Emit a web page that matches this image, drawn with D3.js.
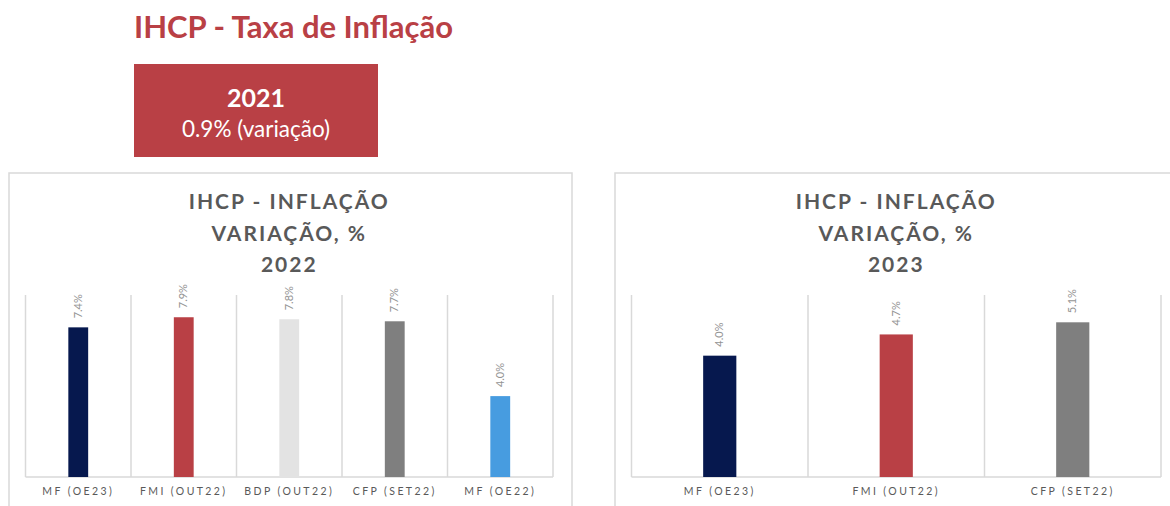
<!DOCTYPE html>
<html>
<head>
<meta charset="utf-8">
<script src="https://cdn.jsdelivr.net/npm/d3@7"></script>
<style>
  html, body { margin: 0; padding: 0; background: #fff; }
  svg { display: block; }
</style>
</head>
<body>
<div id="chart"></div>
<script>
// ─── Data ───
const headline = 'IHCP - Taxa de Inflação';
const boxYear = '2021';
const boxText = '0.9% (variação)';

const titleLines22 = ['IHCP - INFLAÇÃO', 'VARIAÇÃO, %', '2022'];
const cats22 = ['MF (OE23)', 'FMI (OUT22)', 'BDP (OUT22)', 'CFP (SET22)', 'MF (OE22)'];
const vals22 = [7.4, 7.9, 7.8, 7.7, 4.0];
const colors22 = ['#06184E', '#B94045', '#E3E3E3', '#7F7F7F', '#479CE0'];

const titleLines23 = ['IHCP - INFLAÇÃO', 'VARIAÇÃO, %', '2023'];
const cats23 = ['MF (OE23)', 'FMI (OUT22)', 'CFP (SET22)'];
const vals23 = [4.0, 4.7, 5.1];
const colors23 = ['#06184E', '#B94045', '#7F7F7F'];

const FONT = "Lato, 'Open Sans', sans-serif";

const svg = d3.select('#chart')
  .append('svg')
  .attr('width', 1170)
  .attr('height', 506);

// Headline + red box
svg.append('text')
  .attr('x', 134).attr('y', 38)
  .attr('fill', '#B94045')
  .attr('font-family', FONT)
  .attr('font-weight', 700)
  .attr('font-size', '31px')
  .text(headline);

svg.append('rect')
  .attr('x', 134).attr('y', 64)
  .attr('width', 244).attr('height', 93)
  .attr('fill', '#B94045');

svg.append('text')
  .attr('x', 256).attr('y', 107)
  .attr('text-anchor', 'middle')
  .attr('fill', '#fff')
  .attr('font-family', FONT)
  .attr('font-weight', 700)
  .attr('font-size', '25px')
  .text(boxYear);

svg.append('text')
  .attr('x', 256).attr('y', 137)
  .attr('text-anchor', 'middle')
  .attr('fill', '#fff')
  .attr('font-family', FONT)
  .attr('font-size', '22.5px')
  .text(boxText);

function drawPanel(cfg) {
  const g = svg.append('g');

  // frame (no bottom edge visible)
  const fx0 = cfg.frame[0], fx1 = cfg.frame[1], fy = 173;
  g.append('path')
    .attr('d', `M${fx0},506 V${fy} H${fx1}` + (cfg.rightEdge ? ` V506` : ''))
    .attr('fill', 'none')
    .attr('stroke', '#D9D9D9')
    .attr('stroke-width', 1.5);

  // title
  cfg.title.forEach((t, i) => {
    g.append('text')
      .attr('x', (cfg.plot[0] + cfg.plot[1]) / 2)
      .attr('y', 209 + i * 31.5)
      .attr('text-anchor', 'middle')
      .attr('fill', '#595959')
      .attr('font-family', FONT)
      .attr('font-weight', 700)
      .attr('font-size', '21px')
      .attr('letter-spacing', '2px')
      .text(t);
  });

  const x = d3.scaleBand()
    .domain(cfg.cats)
    .range(cfg.plot)
    .padding(0);

  const y = d3.scaleLinear()
    .domain([0, cfg.yMax])
    .range([477, 295]);

  // vertical category separators
  const edges = cfg.cats.map(c => x(c)).concat([cfg.plot[1]]);
  edges.forEach(e => {
    g.append('line')
      .attr('x1', e).attr('x2', e)
      .attr('y1', y(cfg.yMax)).attr('y2', y(0))
      .attr('stroke', '#D9D9D9')
      .attr('stroke-width', 1.5);
  });

  // baseline
  g.append('line')
    .attr('x1', cfg.plot[0]).attr('x2', cfg.plot[1])
    .attr('y1', y(0)).attr('y2', y(0))
    .attr('stroke', '#D9D9D9')
    .attr('stroke-width', 1.5);

  const bw = x.bandwidth() * 0.188;

  cfg.vals.forEach((v, i) => {
    const cx = x(cfg.cats[i]) + x.bandwidth() / 2;
    g.append('rect')
      .attr('x', cx - bw / 2)
      .attr('y', y(v))
      .attr('width', bw)
      .attr('height', y(0) - y(v))
      .attr('fill', cfg.colors[i]);

    g.append('text')
      .attr('transform', `translate(${cx + 3.5},${y(v) - 9}) rotate(-90)`)
      .attr('fill', '#949494')
      .attr('font-family', FONT)
      .attr('font-size', '11px')
      .text(v.toFixed(1) + '%');
  });

  // category axis labels
  const axis = g.append('g')
    .attr('transform', `translate(0, ${y(0)})`)
    .call(d3.axisBottom(x).tickSize(0).tickPadding(11));
  axis.select('.domain').remove();
  axis.selectAll('.tick text')
    .attr('fill', '#595959')
    .attr('font-family', FONT)
    .attr('font-size', '10.5px')
    .attr('letter-spacing', '2.4px');
}

drawPanel({
  frame: [9, 572], rightEdge: true,
  plot: [25.5, 553],
  title: titleLines22, cats: cats22, vals: vals22, colors: colors22, yMax: 9
});

drawPanel({
  frame: [615, 1172], rightEdge: false,
  plot: [631.5, 1161],
  title: titleLines23, cats: cats23, vals: vals23, colors: colors23, yMax: 6
});
</script>
</body>
</html>
